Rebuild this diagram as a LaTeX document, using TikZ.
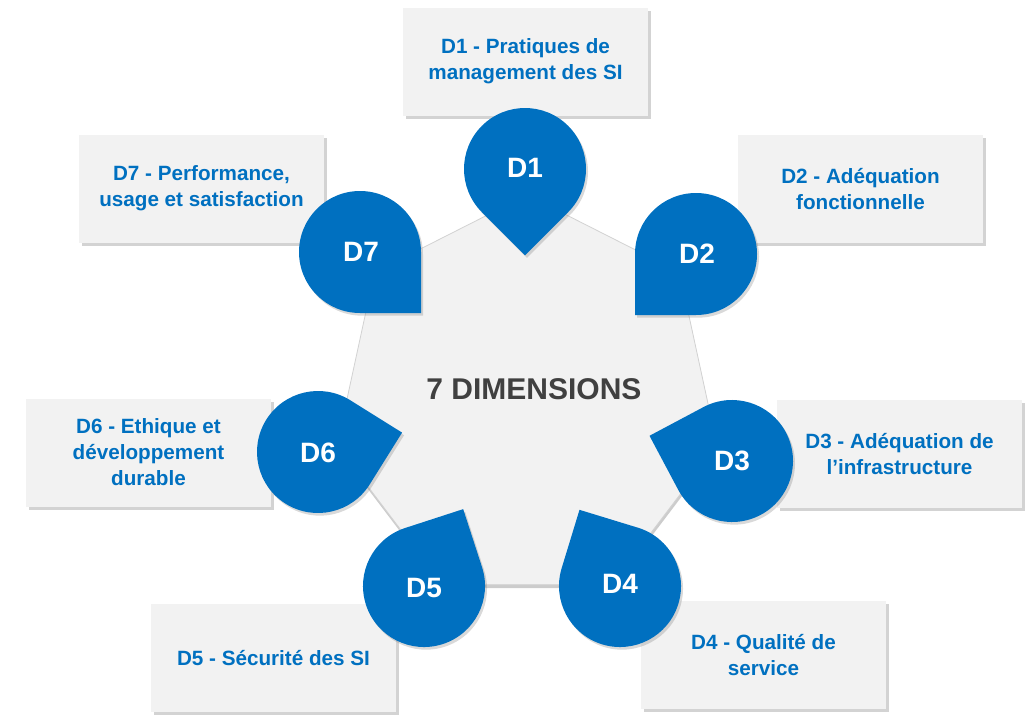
\documentclass[tikz,border=0pt]{standalone}
\usepackage{fontspec}
\setmainfont{Liberation Sans}
\usetikzlibrary{shadows}
\definecolor{dimblue}{HTML}{0070C0}
\definecolor{boxgray}{HTML}{F2F2F2}
\definecolor{titlegray}{HTML}{404040}

\begin{document}
\begin{tikzpicture}[x=0.75pt, y=-0.75pt,
    every node/.style={font=\bfseries},
    dimbox/.style={fill=boxgray, minimum width=183.75pt, minimum height=81pt,
      align=center, text=dimblue, font=\bfseries\fontsize{15.5}{19.5}\selectfont,
      drop shadow={shadow xshift=2pt, shadow yshift=-2.5pt, opacity=0.35}},
    droplabel/.style={text=white, font=\bfseries\fontsize{21}{25}\selectfont},
    tear/.pic={
      \fill[dimblue, drop shadow={shadow xshift=1.5pt, shadow yshift=-2pt, opacity=0.3}]
        (45:61) -- (86.27,0) -- (-45:61) arc[start angle=-45, end angle=-315, radius=61] -- cycle;
    }
  ]
  \useasboundingbox (0,0) rectangle (1031,714);

  % center heptagon
  \filldraw[fill=boxgray, draw=gray!35, line width=0.6pt,
    drop shadow={shadow xshift=0.5pt, shadow yshift=-2.5pt, opacity=0.4}]
    (527,195) -- (374.5,272.2) -- (336.9,445.6) -- (442.4,584.7)
    -- (611.6,584.7) -- (717.1,445.6) -- (679.5,272.2) -- cycle;
  \node[text=titlegray, font=\bfseries\fontsize{22.5}{27}\selectfont] (title) at (534,389) {7 DIMENSIONS};

  % boxes
  \node[dimbox] (box1) at (525.5,61.5) {D1 - Pratiques de\\management des SI};
  \node[dimbox] (box2) at (860.5,189) {D2 - Adéquation\\fonctionnelle};
  \node[dimbox] (box3) at (899.5,454) {D3 - Adéquation de\\l’infrastructure};
  \node[dimbox] (box4) at (763.5,655) {D4 - Qualité de\\service};
  \node[dimbox] (box5) at (273.5,658) {D5 - Sécurité des SI};
  \node[dimbox] (box6) at (148.5,452.5) {D6 - Ethique et\\développement\\durable};
  \node[dimbox] (box7) at (201.5,188.5) {D7 - Performance,\\usage et satisfaction};

  % drops
  \pic[rotate=-90] at (525,169) {tear};
  \pic[rotate=225] at (696,254) {tear};
  \pic[rotate=163] at (732,461) {tear};
  \pic[rotate=118] at (620,586) {tear};
  \pic[rotate=63] at (424,586) {tear};
  \pic[rotate=13] at (318,452) {tear};
  \pic[rotate=-45] at (360,252) {tear};

  \node[droplabel] (d1) at (525,168) {D1};
  \node[droplabel] (d2) at (697,254) {D2};
  \node[droplabel] (d3) at (732,461) {D3};
  \node[droplabel] (d4) at (620,584) {D4};
  \node[droplabel] (d5) at (424,588) {D5};
  \node[droplabel] (d6) at (318,453) {D6};
  \node[droplabel] (d7) at (361,252) {D7};
\end{tikzpicture}
\end{document}
